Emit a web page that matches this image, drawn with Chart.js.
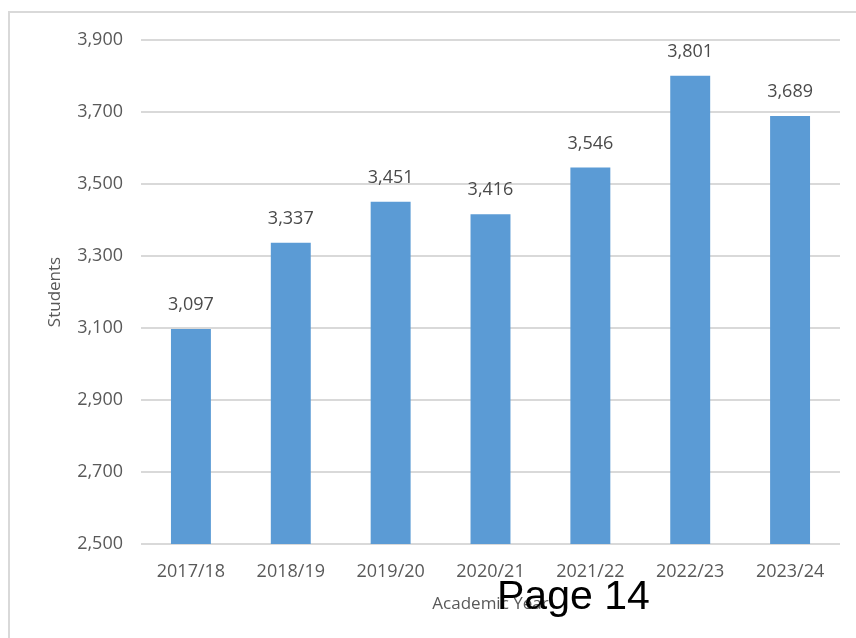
<!DOCTYPE html>
<html>
<head>
<meta charset="utf-8">
<script src="https://cdn.jsdelivr.net/npm/chart.js@4"></script>
<style>
  body { margin: 0; background: #fff; }
  #wrap { position: relative; width: 856px; height: 638px; overflow: hidden; }
  #frame { position: absolute; left: 8px; top: 11px; width: 900px; height: 700px;
           border-left: 2px solid #d9d9d9; border-top: 2px solid #d9d9d9; }
  #page { position: absolute; left: 497px; top: 575px; font: 41px/41px "Liberation Sans", Arial, sans-serif;
          color: #000; white-space: nowrap; }
  canvas { position: absolute; left: 0; top: 0; }
</style>
</head>
<body>
<div id="wrap">
  <div id="frame"></div>
  <canvas id="chart" width="856" height="638"></canvas>
  <div id="page">Page 14</div>
</div>
<script>
// dados
const years = ['2017/18', '2018/19', '2019/20', '2020/21', '2021/22', '2022/23', '2023/24'];
const students = [3097, 3337, 3451, 3416, 3546, 3801, 3689];
const yMin = 2500;
const yMax = 3900;
const yStep = 200;

const textColor = '#595959';
const fontFamily = '"Open Sans", "Noto Sans", sans-serif';

// rótulos em cima das barras
const barLabels = {
  id: 'barLabels',
  afterDatasetsDraw(chart) {
    const ctx = chart.ctx;
    const meta = chart.getDatasetMeta(0);
    ctx.save();
    ctx.font = '18px ' + fontFamily;
    ctx.fillStyle = '#4a4a4a';
    ctx.textAlign = 'center';
    ctx.textBaseline = 'middle';
    meta.data.forEach(function(bar, i) {
      ctx.fillText(students[i].toLocaleString('en-US'), bar.x, bar.y - 24);
    });
    ctx.restore();
  }
};

const studentsChart = new Chart(document.getElementById('chart').getContext('2d'), {
  type: 'bar',
  data: {
    labels: years,
    datasets: [{
      data: students,
      backgroundColor: '#5b9bd5',
      barPercentage: 0.4,
      categoryPercentage: 1.0
    }]
  },
  options: {
    responsive: false,
    animation: false,
    layout: { padding: { top: 40, right: 16, left: 0, bottom: 0 } },
    plugins: {
      legend: { display: false },
      tooltip: { enabled: false }
    },
    scales: {
      x: {
        grid: { display: false, drawTicks: false },
        border: { display: false },
        ticks: { color: textColor, font: { size: 18, family: fontFamily }, padding: 17, maxRotation: 0 },
        title: { display: true, text: 'Academic Year', color: textColor,
                 font: { size: 17, family: fontFamily }, padding: { top: 0, bottom: 24 } },
        afterFit: function(scale) { scale.height = 94; }
      },
      y: {
        min: yMin,
        max: yMax,
        grid: { color: '#d9d9d9', lineWidth: 2, drawTicks: false },
        border: { display: false },
        ticks: {
          stepSize: yStep,
          color: textColor,
          font: { size: 18, family: fontFamily },
          padding: 18,
          callback: function(v) { return v.toLocaleString('en-US'); }
        },
        title: { display: true, text: 'Students', color: textColor,
                 font: { size: 17, family: fontFamily }, padding: { top: 45, bottom: 0 } },
        afterFit: function(scale) { scale.width = 141; }
      }
    }
  },
  plugins: [barLabels]
});
</script>
</body>
</html>
